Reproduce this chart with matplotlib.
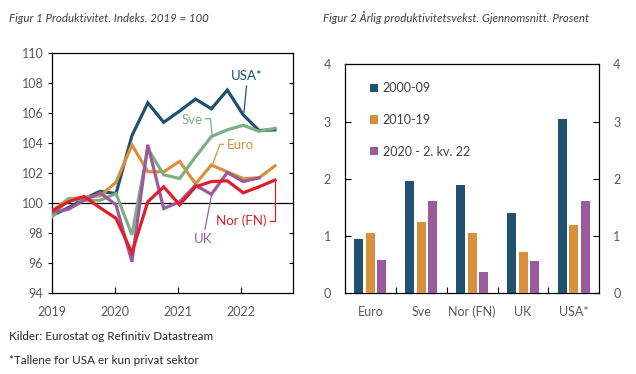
import matplotlib
matplotlib.use("Agg")
import matplotlib.pyplot as plt
import numpy as np

plt.rcParams['font.family'] = ['Lato', 'DejaVu Sans']

# ---- Data: Figure 1 (quarterly index, 2019 = 100) ----
year_labels = ["2019", "2020", "2021", "2022"]
usa = [99.2, 99.7, 100.3, 100.8, 100.65, 104.5, 106.7, 105.4, 106.15, 106.95, 106.3, 107.55, 105.9, 104.85, 104.9]
euro = [99.5, 100.3, 100.4, 100.5, 101.4, 103.9, 102.1, 102.1, 102.8, 101.3, 102.55, 102.1, 101.65, 101.7, 102.5]
sve = [99.1, 100.3, 100.2, 100.2, 100.65, 97.9, 103.65, 101.9, 101.65, 103.1, 104.45, 104.9, 105.2, 104.8, 105.0]
uk = [99.4, 99.6, 100.2, 100.7, 99.9, 96.1, 103.9, 99.65, 100.1, 101.2, 100.6, 102.05, 101.45, 101.7]
nor = [99.5, 100.1, 100.45, 99.7, 99.0, 96.7, 100.1, 101.1, 99.9, 101.1, 101.45, 101.5, 100.7, 101.1, 101.55]

# ---- Data: Figure 2 (average annual growth, percent) ----
countries = ["Euro", "Sve", "Nor (FN)", "UK", "USA*"]
p2000_09 = [0.95, 1.96, 1.90, 1.41, 3.05]
p2010_19 = [1.06, 1.25, 1.06, 0.72, 1.19]
p2020_22 = [0.58, 1.61, 0.37, 0.56, 1.61]
period_labels = ["2000-09", "2010-19", "2020 - 2. kv. 22"]

C_USA = "#1f5171"
C_EURO = "#d8903f"
C_SVE = "#7daf83"
C_UK = "#9a5b9c"
C_NOR = "#e01f2d"
TXT = "#404040"
TICK = "#595959"

W, H = 636, 374
fig = plt.figure(figsize=(W / 100, H / 100), dpi=100)

def px_axes(x0, y0, x1, y1):
    return fig.add_axes([x0 / W, 1 - y1 / H, (x1 - x0) / W, (y1 - y0) / H])

# ================= Figure 1 =================
ax = px_axes(52.4, 53.3, 293.0, 293.3)
spacing = 15.9
for vals, col in [(usa, C_USA), (euro, C_EURO), (sve, C_SVE), (uk, C_UK), (nor, C_NOR)]:
    ax.plot(np.arange(len(vals)), vals, color=col, lw=2.3, solid_joinstyle='miter', zorder=3)
ax.axhline(100, color='black', lw=0.9, zorder=2)
ax.set_xlim(0, (293.0 - 52.4) / spacing)
ax.set_ylim(94, 110)
ax.set_yticks(np.arange(94, 111, 2))
ax.tick_params(axis='y', which='both', direction='out', length=3, width=0.8,
               labelsize=9, labelcolor=TICK, right=True, color='black')
ax.set_xticks([0, (115 - 52.4) / spacing, (178.3 - 52.4) / spacing, (240.7 - 52.4) / spacing])
ax.set_xticklabels(year_labels)
ax.tick_params(axis='x', direction='in', length=4, width=0.8, labelsize=9,
               labelcolor=TICK, pad=9)
for s in ax.spines.values():
    s.set_linewidth(0.9)
    s.set_color('black')
# right ticks inward
for t in ax.yaxis.get_major_ticks():
    t.tick2line.set_marker(matplotlib.lines.TICKLEFT)

def d(xp, yp):
    return ((xp - 52.4) / spacing, 110 - (yp - 53.3) / 15)

lab_fs = 9.5
ax.text(*d(247, 76), "USA*", color=C_USA, fontsize=lab_fs, ha='center', va='center')
ax.plot(*zip(d(246.5, 86), d(244, 112)), color=C_USA, lw=0.9)
ax.text(*d(191.7, 120), "Sve", color=C_SVE, fontsize=lab_fs, ha='center', va='center')
ax.plot(*zip(d(205.5, 118.7), d(210.5, 118.7), d(212, 135)), color=C_SVE, lw=0.9)
ax.text(*d(240.7, 145), "Euro", color=C_EURO, fontsize=lab_fs, ha='center', va='center')
ax.plot(*zip(d(223.3, 144.3), d(220, 144.3), d(212.7, 164)), color=C_EURO, lw=0.9)
ax.text(*d(241.7, 220.5), "Nor (FN)", color=C_NOR, fontsize=lab_fs, ha='center', va='center')
ax.plot(*zip(d(270, 220.7), d(275, 220.7), d(275, 181)), color=C_NOR, lw=0.9)
ax.text(*d(203.3, 239.3), "UK", color=C_UK, fontsize=lab_fs, ha='center', va='center')
ax.plot(*zip(d(205, 229), d(211.7, 194.3)), color=C_UK, lw=0.9)

# ================= Figure 2 =================
bx = px_axes(345, 64.3, 599.3, 293.3)
x = np.arange(len(countries))
bw = 0.177
pitch = 0.226
for k, (vals, col, lab) in enumerate(zip([p2000_09, p2010_19, p2020_22],
                                         [C_USA, C_EURO, C_UK], period_labels)):
    bx.bar(x + (k - 1) * pitch, vals, width=bw, color=col, label=lab, zorder=3)
bx.set_xlim(-0.5, len(countries) - 0.5)
bx.set_ylim(0, 4)
bx.set_yticks([0, 1, 2, 3, 4])
bx.tick_params(axis='y', direction='in', length=4, width=0.8, labelsize=9,
               labelcolor=TICK, left=True, right=True, labelleft=True, labelright=True, pad=10)
bx.set_xticks(x)
bx.set_xticklabels(countries)
bx.tick_params(axis='x', which='major', length=0, labelsize=9, labelcolor=TICK, pad=9)
bx.set_xticks(np.arange(0.5, len(countries) - 0.5, 1), minor=True)
bx.tick_params(axis='x', which='minor', direction='in', length=4, width=0.8)
for s in bx.spines.values():
    s.set_linewidth(0.9)
    s.set_color('black')
leg = bx.legend(loc='upper left', bbox_to_anchor=(0.077, 0.944), frameon=False,
                fontsize=9, handlelength=0.65, handleheight=0.65, handletextpad=0.4,
                labelspacing=1.58, borderaxespad=0)
for t in leg.get_texts():
    t.set_color(TXT)

# ---- titles and notes ----
fig.text(9 / W, 1 - 18 / H, "Figur 1 Produktivitet. Indeks. 2019 = 100", fontsize=8.3,
         style='italic', color=TXT, va='center', ha='left')
fig.text(323 / W, 1 - 18 / H, "Figur 2 Årlig produktivitetsvekst. Gjennomsnitt. Prosent",
         fontsize=8.3, style='italic', color=TXT, va='center', ha='left')
fig.text(9 / W, 1 - 336 / H, "Kilder: Eurostat og Refinitiv Datastream", fontsize=8.4,
         color='#262626', va='center', ha='left')
fig.text(9 / W, 1 - 360 / H, "*Tallene for USA er kun privat sektor", fontsize=8.4,
         color='#262626', va='center', ha='left')

fig.savefig("out.png", dpi=100)
